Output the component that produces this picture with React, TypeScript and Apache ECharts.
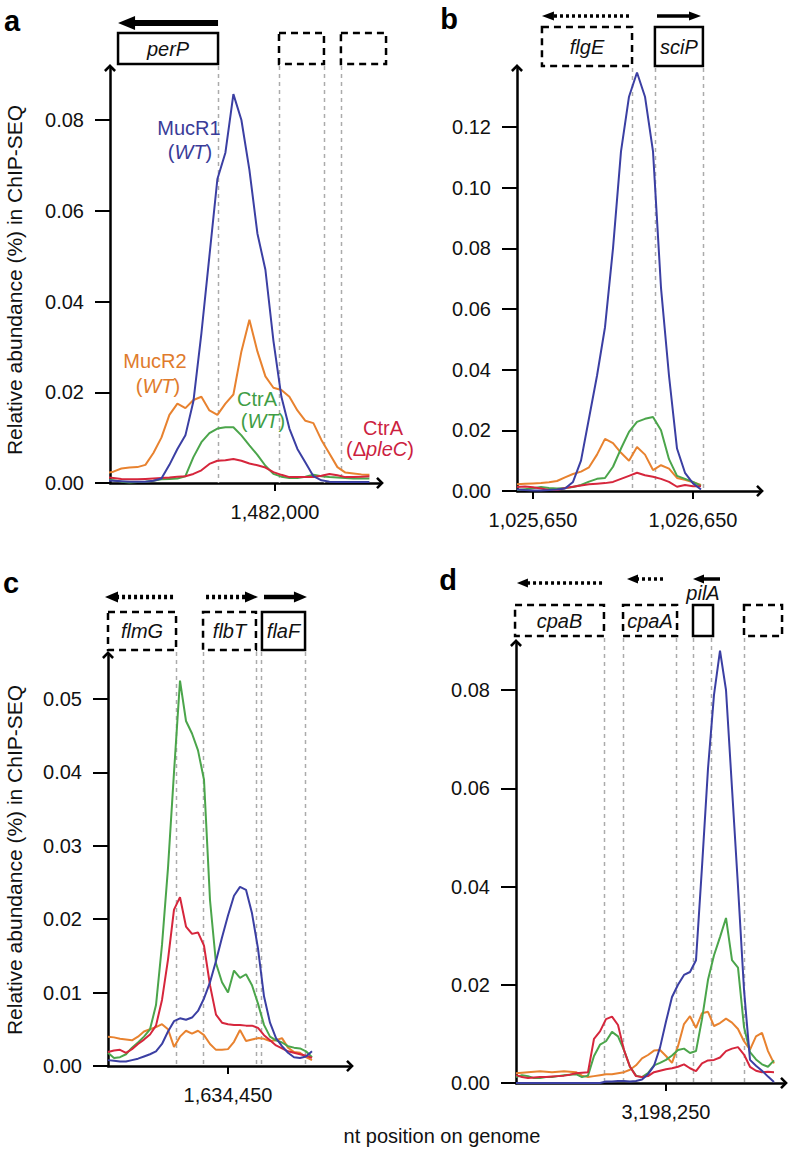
import React, { useEffect, useRef } from "react";
import * as echarts from "echarts";

const FONT = "'Liberation Sans', Arial, Helvetica, sans-serif";
const SERIES_NAMES = ["MucR2 (WT)", "CtrA (WT)", "CtrA (ΔpleC)", "MucR1 (WT)"];
const COLORS = ["#e8822f", "#4ba54b", "#d6263c", "#3b3fa3"];

// ---------- Panel a (perP region) ----------
const A_X_START = 1480940;
const A_X_STEP = 50;
const A_X_TICKS = [1482000];
const A_Y_TICKS = [0, 0.02, 0.04, 0.06, 0.08];
const A_MUCR1 = [0.0006,0.0005,0.0004,0.0003,0.0003,0.0003,0.0005,0.001,0.004,0.0075,0.0105,0.018,0.033,0.05,0.067,0.0728,0.0857,0.08,0.069,0.055,0.047,0.0314,0.019,0.012,0.0075,0.0045,0.0015,0.0006,0.0003,0.0002,0.0002,0.0002,0.0002,0.0002];
const A_MUCR2 = [0.0022,0.0025,0.0032,0.0034,0.0035,0.004,0.0066,0.01,0.015,0.0175,0.0165,0.0183,0.019,0.016,0.015,0.0175,0.0195,0.029,0.036,0.029,0.0235,0.021,0.0205,0.019,0.016,0.0137,0.0132,0.0095,0.0065,0.0035,0.0023,0.0021,0.0019,0.0018];
const A_CTRA = [0.0008,0.0006,0.0003,0.0001,0.0002,0.0003,0.0005,0.0008,0.0009,0.001,0.0015,0.0057,0.009,0.011,0.012,0.0123,0.0123,0.0105,0.0083,0.0062,0.0038,0.002,0.0014,0.0011,0.0011,0.0014,0.0018,0.0015,0.0013,0.0012,0.0011,0.001,0.001,0.001];
const A_PLEC = [0.0013,0.0011,0.0009,0.0008,0.0008,0.0009,0.001,0.0011,0.0012,0.0014,0.0015,0.002,0.0028,0.0042,0.0049,0.005,0.0053,0.0049,0.0043,0.0039,0.0034,0.0024,0.0018,0.0013,0.0013,0.0013,0.0013,0.0016,0.002,0.0017,0.0013,0.0013,0.0014,0.0015];
const A_GENES: [string, number, number, number][] = [["perP", 1481019, 1481644, 1], ["", 1482025, 1482306, 0], ["", 1482412, 1482694, 0]];
const A_BOUNDS = [1481644, 1482025, 1482306, 1482412];
const A_ARROWS: [number, number, number][] = [[1481644, 1481019, 1]];

// ---------- Panel b (flgE / sciP) ----------
const B_X_START = 1025550;
const B_X_STEP = 50;
const B_X_TICKS = [1025650, 1026650];
const B_Y_TICKS = [0, 0.02, 0.04, 0.06, 0.08, 0.1, 0.12];
const B_MUCR1 = [0.0005,0.0003,0.0002,0.0002,0.0003,0.0005,0.0008,0.003,0.01,0.024,0.038,0.054,0.08,0.112,0.13,0.138,0.13,0.112,0.067,0.038,0.014,0.006,0.0025,0.0005];
const B_MUCR2 = [0.0022,0.0024,0.0025,0.0026,0.0029,0.0033,0.0045,0.0056,0.0064,0.0078,0.012,0.0172,0.0158,0.0126,0.01,0.0145,0.012,0.0069,0.0085,0.0074,0.0043,0.0037,0.0029,0.002];
const B_CTRA = [0.0003,0.0006,0.0009,0.0013,0.001,0.0008,0.001,0.0013,0.002,0.0031,0.004,0.0043,0.008,0.014,0.0195,0.0228,0.0238,0.0244,0.02,0.0105,0.005,0.004,0.003,0.0017];
const B_PLEC = [0.0013,0.0015,0.0012,0.0008,0.0003,0.0003,0.001,0.0014,0.0018,0.0022,0.0024,0.0026,0.003,0.004,0.005,0.006,0.0052,0.0047,0.004,0.003,0.0014,0.002,0.0016,0.0016];
const B_GENES: [string, number, number, number][] = [["flgE", 1025706, 1026269, 0], ["sciP", 1026412, 1026712, 1]];
const B_BOUNDS = [1026269, 1026412, 1026712];
const B_ARROWS: [number, number, number][] = [[1026250, 1025706, 0], [1026425, 1026700, 1]];

// ---------- Panel c (flmG / flbT / flaF) ----------
const C_X_START = 1633450;
const C_X_STEP = 50;
const C_X_TICKS = [1634450];
const C_Y_TICKS = [0, 0.01, 0.02, 0.03, 0.04, 0.05];
const C_MUCR1 = [0.0008,0.0007,0.0006,0.0006,0.0008,0.001,0.0013,0.0016,0.002,0.003,0.0047,0.0061,0.0065,0.0063,0.0066,0.0075,0.0092,0.0114,0.0143,0.0175,0.0205,0.0232,0.0244,0.024,0.0208,0.016,0.0095,0.0059,0.0038,0.0027,0.0018,0.0012,0.0011,0.0013,0.002];
const C_MUCR2 = [0.004,0.0039,0.0037,0.0036,0.0035,0.004,0.0047,0.005,0.0053,0.0057,0.005,0.0026,0.004,0.0048,0.0044,0.0048,0.0042,0.003,0.0022,0.0022,0.0023,0.0033,0.0049,0.0034,0.0036,0.0038,0.0037,0.0034,0.0035,0.0038,0.0025,0.0019,0.0018,0.0012,0.0008];
const C_CTRA = [0.0018,0.0011,0.0012,0.0016,0.0025,0.0032,0.004,0.005,0.0083,0.0165,0.027,0.04,0.0525,0.047,0.0453,0.043,0.039,0.0226,0.014,0.0114,0.01,0.013,0.012,0.0125,0.011,0.0085,0.0056,0.004,0.0035,0.0032,0.0027,0.0025,0.0024,0.002,0.0012];
const C_PLEC = [0.0019,0.0021,0.0022,0.0018,0.0023,0.003,0.0036,0.0043,0.0055,0.009,0.0145,0.0213,0.023,0.019,0.018,0.0182,0.0164,0.011,0.007,0.0059,0.0057,0.0056,0.0056,0.0055,0.0055,0.0052,0.0042,0.0035,0.0028,0.0024,0.002,0.0018,0.0016,0.0014,0.0011];
const C_GENES: [string, number, number, number][] = [["flmG", 1633450, 1634017, 0], ["flbT", 1634242, 1634683, 0], ["flaF", 1634733, 1635092, 1]];
const C_BOUNDS = [1634017, 1634242, 1634683, 1634725, 1635092];
const C_ARROWS: [number, number, number][] = [[1633992, 1633425, 0], [1634267, 1634700, 0], [1634750, 1635108, 1]];

// ---------- Panel d (cpaB / cpaA / pilA) ----------
const D_X_START = 3197000;
const D_X_STEP = 50;
const D_X_TICKS = [3198250];
const D_Y_TICKS = [0, 0.02, 0.04, 0.06, 0.08];
const D_MUCR1 = [0,0,0,0,0,0,0,0,0,0,0,0,0,0,0,0.0003,0.0003,0.0004,0.0004,0.0003,0.0004,0.0007,0.0018,0.0035,0.0072,0.0125,0.0175,0.02,0.022,0.0226,0.025,0.044,0.064,0.079,0.088,0.08,0.06,0.04,0.019,0.0047,0.0035,0.0025,0.0013,0.0002];
const D_MUCR2 = [0.002,0.0021,0.0022,0.0023,0.0024,0.0023,0.0022,0.0023,0.0024,0.0023,0.0022,0.0015,0.0012,0.0014,0.0016,0.0018,0.0018,0.002,0.0022,0.0027,0.0036,0.005,0.0057,0.0066,0.0067,0.0055,0.0041,0.0075,0.012,0.0136,0.0112,0.0142,0.0145,0.0116,0.0122,0.0131,0.0123,0.011,0.0085,0.0068,0.0095,0.0102,0.0065,0.004];
const D_CTRA = [0.0012,0.0016,0.0014,0.001,0.001,0.0012,0.0012,0.0014,0.0016,0.0017,0.0018,0.0012,0.0015,0.0055,0.0078,0.0085,0.0104,0.0095,0.0067,0.0033,0.0015,0.0012,0.002,0.0036,0.0041,0.0047,0.0056,0.0067,0.007,0.0061,0.0065,0.013,0.021,0.026,0.0297,0.0336,0.025,0.0235,0.0114,0.0063,0.0048,0.0038,0.0033,0.0046];
const D_PLEC = [0.0016,0.0012,0.001,0.0011,0.0012,0.0012,0.0013,0.0014,0.0015,0.0017,0.002,0.0021,0.0022,0.009,0.0105,0.013,0.0135,0.0118,0.0067,0.0033,0.0014,0.0012,0.0014,0.0022,0.0025,0.0028,0.003,0.0033,0.0038,0.003,0.0024,0.004,0.0046,0.0047,0.0052,0.0065,0.007,0.0073,0.0058,0.0033,0.0025,0.0022,0.0023,0.0022];
const D_GENES: [string, number, number, number][] = [["cpaB", 3196992, 3197733, 0], ["cpaA", 3197892, 3198342, 0], ["pilA", 3198475, 3198642, 1], ["", 3198900, 3199217, 0]];
const D_BOUNDS = [3197733, 3197892, 3198333, 3198475, 3198625, 3198900];
const D_ARROWS: [number, number, number][] = [[3197717, 3197008, 0], [3198225, 3197925, 0], [3198700, 3198475, 1]];

// ---------- layout ----------
const PANELS = [
  { letter: "a", letterPos: [12, 21], grid: { left: 110, top: 68, width: 270, height: 415 }, tickPx: 275, bpPerPx: 6.25, pxPerUnit: 4537.5,
    xStart: A_X_START, xStep: A_X_STEP, data: [A_MUCR2, A_CTRA, A_PLEC, A_MUCR1], xTicks: A_X_TICKS, yTicks: A_Y_TICKS,
    genes: A_GENES, bounds: A_BOUNDS, arrows: A_ARROWS, box: [33, 64], arrowY: [23], arrowSize: [6, 17, 14] },
  { letter: "b", letterPos: [449, 19], grid: { left: 517, top: 68, width: 243, height: 423 }, tickPx: 533, bpPerPx: 6.25, pxPerUnit: 3033,
    xStart: B_X_START, xStep: B_X_STEP, data: [B_MUCR2, B_CTRA, B_PLEC, B_MUCR1], xTicks: B_X_TICKS, yTicks: B_Y_TICKS,
    genes: B_GENES, bounds: B_BOUNDS, arrows: B_ARROWS, box: [27, 66], arrowY: [16, 16], arrowSize: [3.5, 12, 9] },
  { letter: "c", letterPos: [11, 583], grid: { left: 108, top: 655, width: 242, height: 411 }, tickPx: 228, bpPerPx: 50 / 6, pxPerUnit: 7340,
    xStart: C_X_START, xStep: C_X_STEP, data: [C_MUCR2, C_CTRA, C_PLEC, C_MUCR1], xTicks: C_X_TICKS, yTicks: C_Y_TICKS,
    genes: C_GENES, bounds: C_BOUNDS, arrows: C_ARROWS, box: [612, 650], arrowY: [597, 597, 597], arrowSize: [4.5, 13, 11] },
  { letter: "d", letterPos: [448, 580], grid: { left: 516, top: 643, width: 268, height: 440 }, tickPx: 666, bpPerPx: 50 / 6, pxPerUnit: 4912.5,
    xStart: D_X_START, xStep: D_X_STEP, data: [D_MUCR2, D_CTRA, D_PLEC, D_MUCR1], xTicks: D_X_TICKS, yTicks: D_Y_TICKS,
    genes: D_GENES, bounds: D_BOUNDS, arrows: D_ARROWS, box: [605, 636], arrowY: [583, 579, 579], arrowSize: [3.5, 11, 9] },
];

const CHEVRON = "path://M0,10 L10,0 L20,10 L17,13 L10,6 L3,13 Z";
const fmtBp = (v: number) => Math.round(v).toLocaleString("en-US");

function buildOption() {
  const grid: any[] = [];
  const xAxis: any[] = [];
  const yAxis: any[] = [];
  const series: any[] = [];
  PANELS.forEach((p, k) => {
    grid.push({ ...p.grid, containLabel: false });
    const xMin = p.xTicks[0] - (p.tickPx - p.grid.left) * p.bpPerPx;
    const xMax = xMin + p.grid.width * p.bpPerPx;
    const yMax = p.grid.height / p.pxPerUnit;
    xAxis.push({
      type: "value", gridIndex: k, min: xMin, max: xMax,
      axisLine: { show: true, onZero: false, lineStyle: { color: "#000", width: 2.5 }, symbol: ["none", CHEVRON], symbolSize: [12, 9] },
      axisTick: { show: true, length: 8, lineStyle: { color: "#000", width: 2 }, customValues: p.xTicks },
      axisLabel: { show: true, customValues: p.xTicks, formatter: fmtBp, fontSize: 20, fontFamily: FONT, color: "#111", margin: 19 },
      splitLine: { show: false },
    });
    yAxis.push({
      type: "value", gridIndex: k, min: 0, max: yMax,
      axisLine: { show: true, lineStyle: { color: "#000", width: 2.5 }, symbol: ["none", CHEVRON], symbolSize: [12, 9] },
      axisTick: { show: true, length: 15, lineStyle: { color: "#000", width: 2 }, customValues: p.yTicks },
      axisLabel: { show: true, customValues: p.yTicks, formatter: (v: number) => v.toFixed(2), fontSize: 20, fontFamily: FONT, color: "#111", margin: 26 },
      splitLine: { show: false },
    });
    p.data.forEach((vals, s) => {
      series.push({
        type: "line", name: SERIES_NAMES[s], xAxisIndex: k, yAxisIndex: k,
        data: vals.map((v, i) => [p.xStart + i * p.xStep, v]),
        symbol: "none", showSymbol: false, color: COLORS[s],
        lineStyle: { width: 2, color: COLORS[s] }, z: 3 + s,
      });
    });
  });
  return { animation: false, backgroundColor: "#fff", grid, xAxis, yAxis, series };
}

function buildGraphics(chart: any) {
  const g: any[] = [];
  const txt = (text: string, x: number, y: number, size: number, opts: any = {}) => ({
    type: "text", z: 10, x, y, rotation: opts.rotation || 0,
    style: { text, x: 0, y: 0, fontSize: size, fontFamily: FONT, fill: opts.fill || "#111", fontStyle: opts.italic ? "italic" : "normal",
      fontWeight: opts.bold ? "bold" : "normal", align: "center", verticalAlign: "middle", rich: opts.rich },
  });
  PANELS.forEach((p, k) => {
    const px = (bp: number) => chart.convertToPixel({ xAxisIndex: k }, bp) as number;
    const y0 = chart.convertToPixel({ yAxisIndex: k }, 0) as number;
    const [bt, bb] = p.box;
    p.bounds.forEach((bp) => {
      const x = Math.round(px(bp)) + 0.5;
      g.push({ type: "line", z: 1, shape: { x1: x, y1: bb + 2, x2: x, y2: y0 }, style: { stroke: "#ababab", lineWidth: 1.5, lineDash: [4, 4] } });
    });
    p.genes.forEach(([name, s, e, solid]) => {
      const x1 = px(s), x2 = px(e);
      g.push({ type: "rect", z: 5, shape: { x: x1, y: bt, width: x2 - x1, height: bb - bt },
        style: { fill: "#fff", stroke: "#000", lineWidth: 2.5, lineDash: solid ? null : [7, 5] } });
      if (name) {
        const small = x2 - x1 < 40;
        g.push(txt(name, (x1 + x2) / 2, small ? bt - 12 : (bt + bb) / 2, 20, { italic: true }));
      }
    });
    const [sw, hl, hw] = p.arrowSize;
    p.arrows.forEach(([from, to, solid], j) => {
      const y = p.arrowY[j];
      const xa = px(from), xb = px(to);
      const dir = xb > xa ? 1 : -1;
      const xs = xb - dir * hl;
      g.push({ type: "line", z: 5, shape: { x1: xa, y1: y, x2: xs + dir * 1, y2: y },
        style: { stroke: "#000", lineWidth: sw, lineDash: solid ? null : [3, 3], lineCap: "butt" } });
      g.push({ type: "polygon", z: 5, shape: { points: [[xb, y], [xs, y - hw / 2], [xs, y + hw / 2]] }, style: { fill: "#000" } });
    });
    g.push(txt(p.letter, p.letterPos[0], p.letterPos[1], 29, { bold: true, fill: "#000" }));
  });
  // series labels (panel a)
  const lab = (text: string, x: number, y: number, fill: string) => txt(text, x, y, 20, { fill, rich: { i: { fontStyle: "italic", fontSize: 20, fontFamily: FONT, fill } } });
  g.push(lab("MucR1", 189, 128, "#3a3c98"));
  g.push(lab("({i|WT})", 190, 152, "#3a3c98"));
  g.push(lab("MucR2", 155, 361, "#e07b2c"));
  g.push(lab("({i|WT})", 158, 386, "#e07b2c"));
  g.push(lab("CtrA", 257, 399, "#3f9d45"));
  g.push(lab("({i|WT})", 263, 421, "#3f9d45"));
  g.push(lab("CtrA", 383, 428, "#cc1f3f"));
  g.push(lab("(Δ{i|pleC})", 380, 449, "#cc1f3f"));
  // axis titles
  const yTitle = "Relative abundance (%) in ChIP-SEQ";
  g.push(txt(yTitle, 14, 280, 21, { rotation: Math.PI / 2 }));
  g.push(txt(yTitle, 14, 860, 21, { rotation: Math.PI / 2 }));
  g.push(txt("nt position on genome", 442, 1136, 20));
  return g;
}

export default function App() {
  const ref = useRef<HTMLDivElement>(null);
  useEffect(() => {
    if (!ref.current) return;
    const chart = echarts.init(ref.current, null, { renderer: "svg" });
    chart.setOption(buildOption());
    chart.setOption({ graphic: { elements: buildGraphics(chart) } });
    return () => chart.dispose();
  }, []);
  return <div ref={ref} style={{ position: "absolute", left: 0, top: 0, width: 788, height: 1150, background: "#fff" }} />;
}
